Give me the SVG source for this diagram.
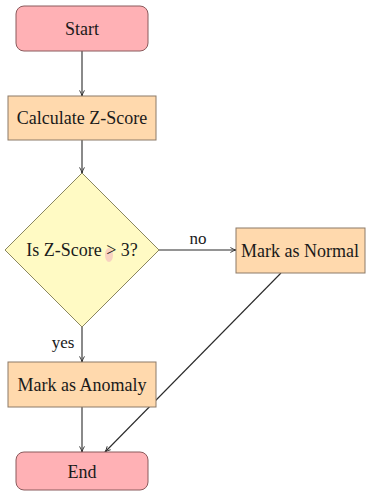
<svg xmlns="http://www.w3.org/2000/svg" width="368" height="494" viewBox="0 0 368 494">
  <style>
    .term { fill: #ffb1b5; stroke: #8a5a5c; stroke-width: 1; }
    .proc { fill: #ffd9ad; stroke: #8c7a68; stroke-width: 1; }
    .dec  { fill: #fffac4; stroke: #8a8660; stroke-width: 1; }
    .lbl  { font-family: 'Liberation Serif', 'DejaVu Serif', serif; font-size: 18px; fill: #1a1a1a; text-anchor: middle; }
    .edge { fill: none; stroke: #2a2a2a; stroke-width: 1.1; marker-end: url(#arrow); }
    .elbl { font-family: 'Liberation Serif', 'DejaVu Serif', serif; font-size: 17px; fill: #1a1a1a; text-anchor: middle; }
  </style>
  <defs>
    <marker id="arrow" viewBox="0 0 10 10" refX="9" refY="5" markerWidth="7" markerHeight="7" markerUnits="userSpaceOnUse" orient="auto">
      <path d="M1,1.5 Q5,4 9,5 Q5,6 1,8.5" fill="none" stroke="#2a2a2a" stroke-width="1.3"/>
    </marker>
  </defs>

  <rect width="368" height="494" fill="#ffffff"/>

  <!-- connectors -->
  <g id="connectors">
    <line class="edge" x1="82" y1="51" x2="82" y2="96"/>
    <line class="edge" x1="82" y1="140" x2="82" y2="173"/>
    <line class="edge" x1="158" y1="250" x2="236" y2="250"/>
    <line class="edge" x1="82" y1="327" x2="82" y2="362"/>
    <line class="edge" x1="82" y1="407" x2="82" y2="452"/>
    <line class="edge" x1="281" y1="273" x2="105" y2="452"/>
    <text class="elbl" x="198" y="244">no</text>
    <text class="elbl" x="63" y="348">yes</text>
  </g>

  <g id="start">
    <rect class="term" x="16" y="6" width="132" height="45" rx="8"/>
    <text class="lbl" x="82" y="35">Start</text>
  </g>

  <g id="calc">
    <rect class="proc" x="8" y="96" width="148" height="44"/>
    <text class="lbl" x="82" y="124">Calculate Z-Score</text>
  </g>

  <g id="decision">
    <polygon class="dec" points="82,173 159,250 82,327 5,250"/>
    <ellipse cx="109" cy="255" rx="4" ry="7" fill="#f6c8c0" opacity="0.8"/>
    <text class="lbl" x="82" y="256">Is Z-Score &gt; 3?</text>
  </g>

  <g id="normal">
    <rect class="proc" x="236" y="228" width="129" height="45"/>
    <text class="lbl" x="300" y="257">Mark as Normal</text>
  </g>

  <g id="anomaly">
    <rect class="proc" x="8" y="362" width="148" height="45"/>
    <text class="lbl" x="82" y="391">Mark as Anomaly</text>
  </g>

  <g id="end">
    <rect class="term" x="16" y="452" width="132" height="38" rx="8"/>
    <text class="lbl" x="82" y="478">End</text>
  </g>
</svg>
